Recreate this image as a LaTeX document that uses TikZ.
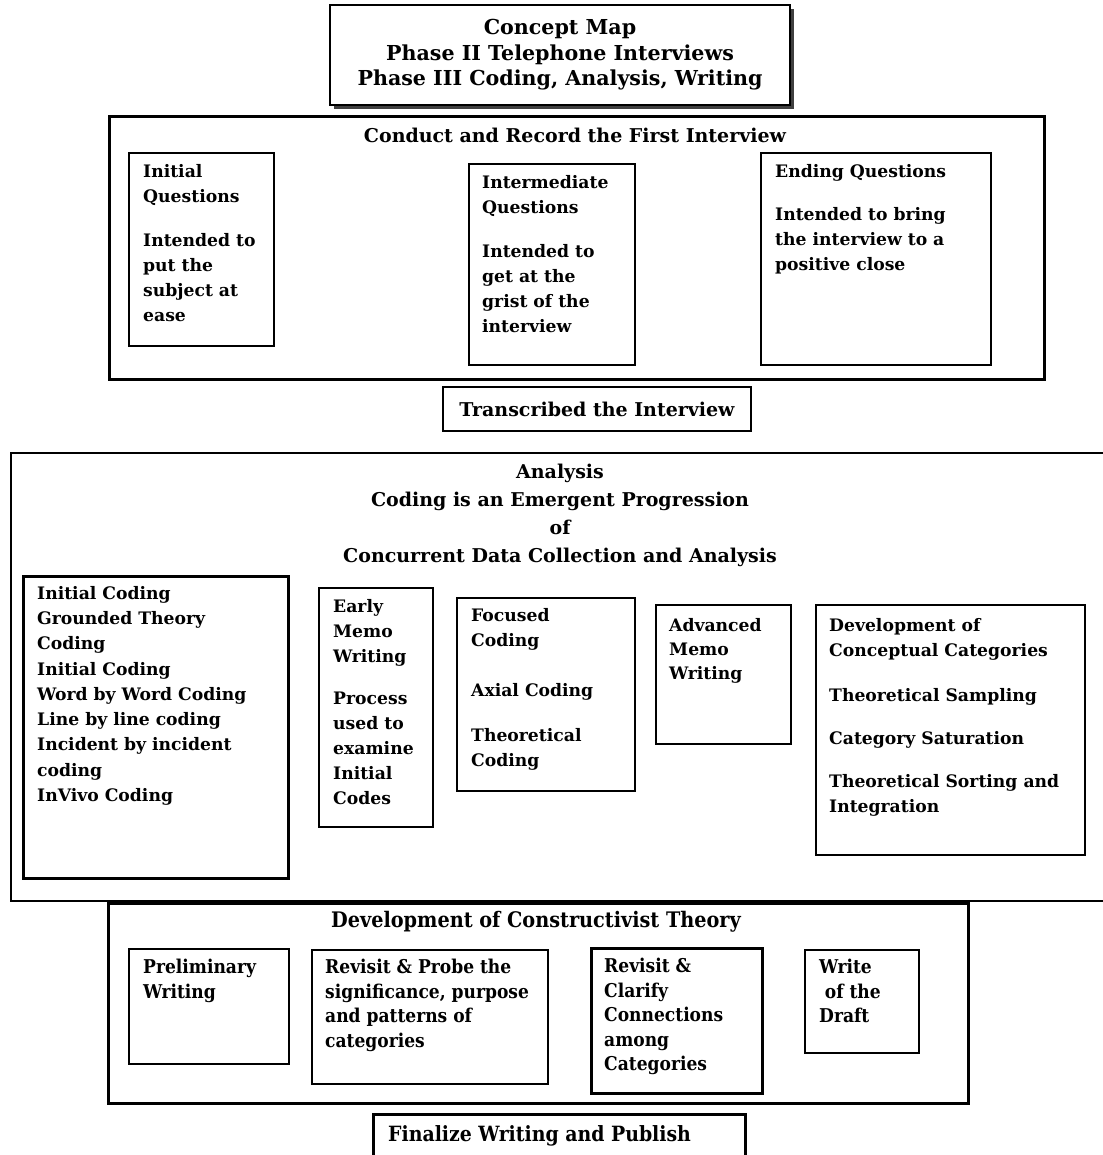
\documentclass[tikz,border=0pt]{standalone}
\usepackage{fontspec}
\setmainfont{DejaVu Serif}
\newfontfamily\condfont{DejaVu Serif Condensed}
\usetikzlibrary{shadows}

\begin{document}
\begin{tikzpicture}[
  x=1pt,y=-1pt,
  font=\bfseries\fontsize{17.2}{25}\selectfont,
  box/.style={draw,line width=2pt,anchor=north west,inner sep=0pt},
  frame/.style={draw,line width=3pt,anchor=north west,inner sep=0pt},
  txt/.style={anchor=north west,align=left,inner sep=0pt},
  head/.style={align=center,inner sep=0pt,font=\bfseries\fontsize{19}{28}\selectfont},
  cond/.style={font=\condfont\bfseries\fontsize{19}{24.5}\selectfont}]
\useasboundingbox (0,0) rectangle (1102,1155);

% title
\node[draw,line width=2pt,fill=white,minimum width=460pt,minimum height=100pt,
      drop shadow={shadow xshift=4pt,shadow yshift=-4pt,fill=black!75,opacity=1}]
      (title) at (560,55) {};
\node[head,font=\bfseries\fontsize{20.6}{25.5}\selectfont] (titletxt) at (560,55)
  {Concept Map\\Phase II Telephone Interviews\\Phase III Coding, Analysis, Writing};

% phase II: the first interview
\node[frame,minimum width=935pt,minimum height=263pt] (conduct) at (108,115) {};
\node[head] (conducthd) at (575,135) {Conduct and Record the First Interview};
\node[box,minimum width=145pt,minimum height=193pt] (iq) at (128,152) {};
\node[txt] (iqt) at ([shift={(15pt,-12pt)}]iq.north west)
  {Initial\\Questions\\[19pt]Intended to\\put the\\subject at\\ease};
\node[box,minimum width=166pt,minimum height=201pt] (mq) at (468,163) {};
\node[txt] (mqt) at ([shift={(14pt,-12pt)}]mq.north west)
  {Intermediate\\Questions\\[19pt]Intended to\\get at the\\grist of the\\interview};
\node[box,minimum width=230pt,minimum height=212pt] (eq) at (760,152) {};
\node[txt] (eqt) at ([shift={(15pt,-12pt)}]eq.north west)
  {Ending Questions\\[18pt]Intended to bring\\the interview to a\\positive close};
\node[draw,line width=2.5pt,minimum width=308pt,minimum height=44pt] (trans) at (597,409) {};
\node[head] (transt) at (trans.center) {Transcribed the Interview};

% phase III: analysis
\node[draw,line width=1.5pt,anchor=north west,inner sep=0pt,
      minimum width=1096pt,minimum height=448pt] (analysis) at (10,452) {};
\node[head] (analysishd) at (560,515)
  {Analysis\\Coding is an Emergent Progression\\of\\Concurrent Data Collection and Analysis};
\node[box,line width=3pt,minimum width=265pt,minimum height=302pt] (ic) at (22,575) {};
\node[txt,font=\bfseries\fontsize{17.2}{25.25}\selectfont] (ict) at ([shift={(15pt,-11pt)}]ic.north west)
  {Initial Coding\\Grounded Theory\\Coding\\Initial Coding\\Word by Word Coding\\Line by line coding\\Incident by incident\\coding\\InVivo Coding};
\node[box,line width=1.5pt,minimum width=114pt,minimum height=239pt] (em) at (318,587) {};
\node[txt] (emt) at ([shift={(15pt,-12pt)}]em.north west)
  {Early\\Memo\\Writing\\[17pt]Process\\used to\\examine\\Initial\\Codes};
\node[box,minimum width=178pt,minimum height=193pt] (fc) at (456,597) {};
\node[txt] (fct) at ([shift={(15pt,-11pt)}]fc.north west)
  {Focused\\Coding\\[25pt]Axial Coding\\[20pt]Theoretical\\Coding};
\node[box,minimum width=135pt,minimum height=139pt] (am) at (655,604) {};
\node[txt,font=\bfseries\fontsize{17.2}{24}\selectfont] (amt) at ([shift={(14pt,-14pt)}]am.north west)
  {Advanced\\Memo\\Writing};
\node[box,line width=1.5pt,minimum width=269pt,minimum height=250pt] (dc) at (815,604) {};
\node[txt] (dct) at ([shift={(14pt,-14pt)}]dc.north west)
  {Development of\\Conceptual Categories\\[20pt]Theoretical Sampling\\[18pt]Category Saturation\\[18pt]Theoretical Sorting and\\Integration};

% constructivist theory
\node[frame,minimum width=860pt,minimum height=200pt] (theory) at (107,902) {};
\node[head,cond,font=\condfont\bfseries\fontsize{21.4}{25}\selectfont] (theoryhd) at (536,922)
  {Development of Constructivist Theory};
\node[box,minimum width=160pt,minimum height=115pt] (pw) at (128,948) {};
\node[txt,cond] (pwt) at ([shift={(15pt,-11pt)}]pw.north west) {Preliminary\\Writing};
\node[box,minimum width=236pt,minimum height=134pt] (rp) at (311,949) {};
\node[txt,cond] (rpt) at ([shift={(14pt,-10pt)}]rp.north west)
  {Revisit \& Probe the\\significance, purpose\\and patterns of\\categories};
\node[box,line width=2.5pt,minimum width=171pt,minimum height=145pt] (rc) at (590,947) {};
\node[txt,cond] (rct) at ([shift={(14pt,-11pt)}]rc.north west)
  {Revisit \&\\Clarify\\Connections\\among\\Categories};
\node[box,minimum width=114pt,minimum height=103pt] (wd) at (804,949) {};
\node[txt,cond] (wdt) at ([shift={(15pt,-10pt)}]wd.north west)
  {Write\\\hspace{0.3em}of the\\Draft};
\node[box,line width=2.5pt,minimum width=372pt,minimum height=50pt] (fin) at (372,1113) {};
\node[inner sep=0pt,anchor=west,font=\condfont\bfseries\fontsize{21}{25}\selectfont] (fint)
  at ([xshift=16pt,yshift=3pt]fin.west) {Finalize Writing and Publish};
\end{tikzpicture}
\end{document}
